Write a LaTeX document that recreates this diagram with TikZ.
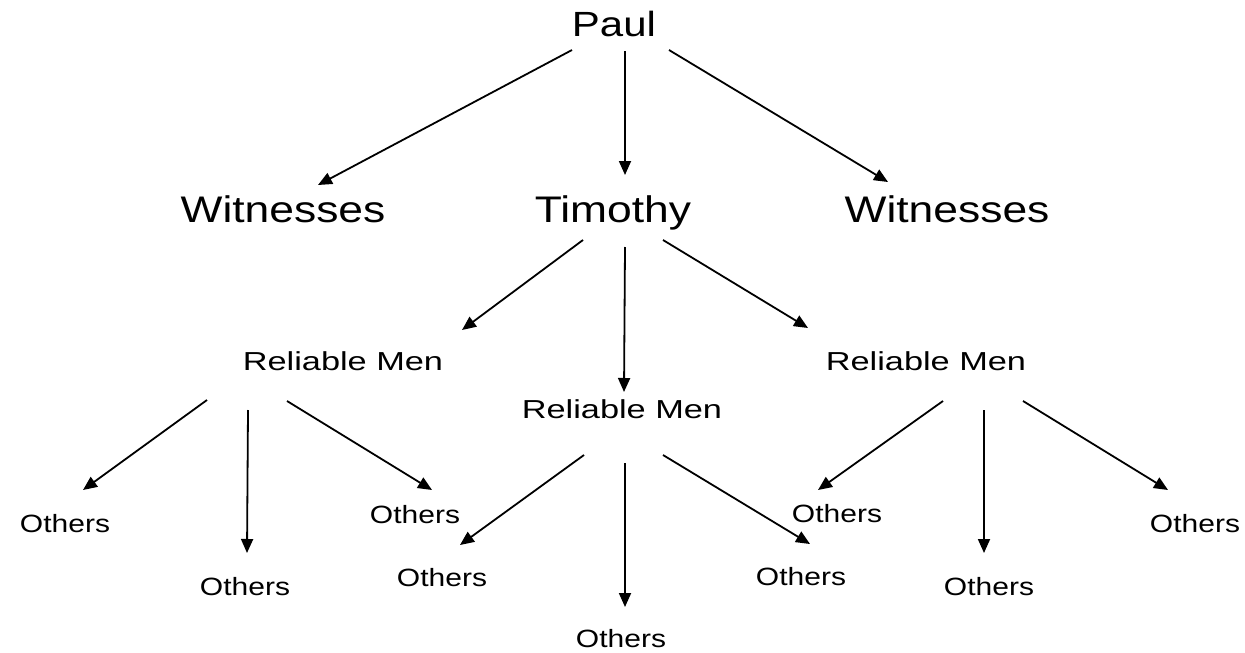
\documentclass[tikz,border=0pt]{standalone}
\usepackage{fontspec}
\setmainfont{Liberation Sans}[FakeStretch=1.2]
\newfontfamily\widefont{Liberation Sans}[FakeStretch=1.32]
\usetikzlibrary{positioning,arrows.meta}

\begin{document}
\begin{tikzpicture}[x=1pt, y=-1pt, every node/.style={inner sep=0pt, text depth=0pt},
    top/.style={font=\fontsize{35}{40}\selectfont, text height=24pt},
    big/.style={font=\fontsize{37}{42}\selectfont, text height=25.5pt},
    men/.style={font=\widefont\fontsize{26}{30}\selectfont, text height=17.9pt},
    others/.style={font=\fontsize{25}{30}\selectfont, text height=17.2pt},
    arr/.style={-{Triangle[length=14pt,width=12pt]}, line width=1.8pt}]
    \useasboundingbox (0,0) rectangle (1245,653);
    % names
    \node[top] (paul) at (614,24) {Paul};
    \node[big] (witL) at (283,209.5) {Witnesses};
    \node[big] (tim) at (613,209.5) {Timothy};
    \node[big] (witR) at (947,209.5) {Witnesses};
    \node[men] (rmL) at (343,362) {Reliable Men};
    \node[men] (rmC) at (622,410) {Reliable Men};
    \node[men] (rmR) at (926,362) {Reliable Men};
    \node[others] (oL1) at (65,524) {Others};
    \node[others] (oL2) at (245,587) {Others};
    \node[others] (oL3) at (415,515) {Others};
    \node[others] (oC1) at (442,578) {Others};
    \node[others] (oC2) at (621,639) {Others};
    \node[others] (oC3) at (801,577) {Others};
    \node[others] (oR1) at (837,514) {Others};
    \node[others] (oR2) at (989,587) {Others};
    \node[others] (oR3) at (1195,524) {Others};
    % arrows
    \draw[arr] ([shift={(-42,26)}]paul.center) -- ([shift={(35,-24.5)}]witL.center);
    \draw[arr] ([shift={(11,27)}]paul.center) -- ([shift={(12,-34.5)}]tim.center);
    \draw[arr] ([shift={(55,26)}]paul.center) -- ([shift={(-59,-27.5)}]witR.center);
    \draw[arr] ([shift={(-30,30.5)}]tim.center) -- ([shift={(119,-32)}]rmL.center);
    \draw[arr] ([shift={(12,37.5)}]tim.center) -- ([shift={(2,-18)}]rmC.center);
    \draw[arr] ([shift={(50,30.5)}]tim.center) -- ([shift={(-118,-34)}]rmR.center);
    \draw[arr] ([shift={(-136,38)}]rmL.center) -- ([shift={(18,-34)}]oL1.center);
    \draw[arr] ([shift={(-95,48)}]rmL.center) -- ([shift={(2,-34)}]oL2.center);
    \draw[arr] ([shift={(-56,39)}]rmL.center) -- ([shift={(17,-25)}]oL3.center);
    \draw[arr] ([shift={(-38,45)}]rmC.center) -- ([shift={(18,-33)}]oC1.center);
    \draw[arr] ([shift={(3,53)}]rmC.center) -- ([shift={(4,-32)}]oC2.center);
    \draw[arr] ([shift={(41,45)}]rmC.center) -- ([shift={(9,-33)}]oC3.center);
    \draw[arr] ([shift={(17,39)}]rmR.center) -- ([shift={(-19,-24)}]oR1.center);
    \draw[arr] ([shift={(58,48)}]rmR.center) -- ([shift={(-5,-34)}]oR2.center);
    \draw[arr] ([shift={(97,39)}]rmR.center) -- ([shift={(-27,-34)}]oR3.center);
\end{tikzpicture}
\end{document}
